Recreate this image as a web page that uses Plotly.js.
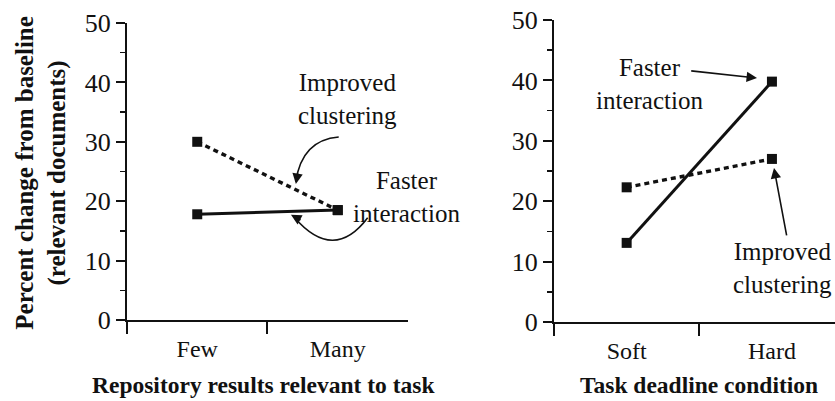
<!DOCTYPE html>
<html>
<head>
<meta charset="utf-8">
<script src="https://cdn.plot.ly/plotly-3.0.1.min.js"></script>
<style>html,body{margin:0;padding:0;background:#fff;}#chart{width:835px;height:401px;}</style>
</head>
<body>
<div id="chart"></div>
<script>
// Left panel: repository results relevant to task
const repoCategories = ['Few', 'Many'];
const repoFaster = [17.8, 18.5];
const repoClustering = [30.0, 18.5];
// Right panel: task deadline condition
const deadlineCategories = ['Soft', 'Hard'];
const deadlineFaster = [13.1, 39.8];
const deadlineClustering = [22.3, 27.0];
const yTickVals = [0, 10, 20, 30, 40, 50];

const FONT = '"Liberation Serif", "DejaVu Serif", serif';
const INK = '#111';

const solidLine = {color: INK, width: 3};
const dashLine = {color: INK, width: 3.4, dash: '5px,4px'};
const marker = {symbol: 'square', size: 10, color: INK};

const traces = [
  {x: repoCategories, y: repoFaster, xaxis: 'x', yaxis: 'y', mode: 'lines+markers', line: solidLine, marker: marker, name: 'Faster interaction'},
  {x: repoCategories, y: repoClustering, xaxis: 'x', yaxis: 'y', mode: 'lines+markers', line: dashLine, marker: marker, name: 'Improved clustering'},
  {x: deadlineCategories, y: deadlineFaster, xaxis: 'x2', yaxis: 'y2', mode: 'lines+markers', line: solidLine, marker: marker, name: 'Faster interaction'},
  {x: deadlineCategories, y: deadlineClustering, xaxis: 'x2', yaxis: 'y2', mode: 'lines+markers', line: dashLine, marker: marker, name: 'Improved clustering'}
];

function xAxis(domain, range, anchor) {
  return {
    domain: domain, range: range, anchor: anchor, type: 'category',
    showline: true, linecolor: INK, linewidth: 2,
    ticks: 'outside', tickson: 'boundaries', ticklen: 12, tickwidth: 2, tickcolor: INK,
    showgrid: false, zeroline: false,
    ticklabelstandoff: 6,
    tickfont: {family: FONT, size: 24, color: INK}
  };
}
function yAxis(domain, anchor) {
  return {
    domain: domain, range: [0, 50], anchor: anchor,
    tickvals: yTickVals,
    showline: true, linecolor: INK, linewidth: 2,
    ticks: 'outside', ticklen: 9, tickwidth: 2, tickcolor: INK,
    minor: {dtick: 5, ticks: 'outside', ticklen: 5, tickwidth: 1.5, tickcolor: INK, showgrid: false},
    showgrid: false, zeroline: false,
    tickfont: {family: FONT, size: 26, color: INK}
  };
}

const txt = {family: FONT, size: 25, color: INK};
const bold = {family: FONT, size: 23.5, color: INK, weight: 'bold'};
const boldY = {family: FONT, size: 25, color: INK, weight: 'bold'};

function head(xref, yref, x, y, ax, ay) {
  return {xref: xref, yref: yref, x: x, y: y, text: '', showarrow: true, ax: ax, ay: ay,
          arrowhead: 2, arrowsize: 1.3, arrowwidth: 1.6, arrowcolor: INK, standoff: 0};
}

const layout = {
  width: 835, height: 401,
  margin: {l: 0, r: 0, t: 0, b: 0},
  paper_bgcolor: '#fff', plot_bgcolor: 'rgba(0,0,0,0)',
  showlegend: false,
  font: {family: FONT, color: INK},
  xaxis: xAxis([0.1521, 0.4886], [-0.5, 1.5], 'y'),
  yaxis: yAxis([0.2020, 0.9426], 'x'),
  xaxis2: xAxis([0.6635, 1.0], [-0.5, 1.434], 'y2'),
  yaxis2: yAxis([0.1970, 0.9501], 'x2'),
  shapes: [
    {type: 'path', xref: 'x', yref: 'y', path: 'M1.007,30.8 Q0.745,30.3 0.702,23.3', line: {color: INK, width: 1.6}},
    {type: 'path', xref: 'x', yref: 'y', path: 'M1.213,17.2 Q0.972,9.6 0.69,17.3', line: {color: INK, width: 1.6}}
  ],
  annotations: [
    {xref: 'x', yref: 'y', x: 1.07, y: 37.2, text: 'Improved<br>clustering', showarrow: false, font: txt, align: 'center'},
    {xref: 'x', yref: 'y', x: 1.49, y: 20.7, text: 'Faster<br>interaction', showarrow: false, font: txt, align: 'center'},
    head('x', 'y', 0.702, 22.9, 2, -12),
    head('x', 'y', 0.667, 17.7, 11, 6),
    {xref: 'x2', yref: 'y2', x: 0.16, y: 39.4, text: 'Faster<br>interaction', showarrow: false, font: txt, align: 'center'},
    {xref: 'x2', yref: 'y2', x: 1.076, y: 8.9, text: 'Improved<br>clustering', showarrow: false, font: txt, align: 'center'},
    {xref: 'x2', yref: 'y2', x: 0.897, y: 40.4, axref: 'x2', ayref: 'y2', ax: 0.434, ay: 41.6, text: '', showarrow: true,
     arrowhead: 2, arrowsize: 1.3, arrowwidth: 1.6, arrowcolor: INK, standoff: 0},
    {xref: 'x2', yref: 'y2', x: 1.014, y: 25.5, axref: 'x2', ayref: 'y2', ax: 1.103, ay: 14.1, text: '', showarrow: true,
     arrowhead: 2, arrowsize: 1.3, arrowwidth: 1.6, arrowcolor: INK, standoff: 0},
    {xref: 'paper', yref: 'paper', x: 0.315, y: 0.04, xanchor: 'center', yanchor: 'middle', text: 'Repository results relevant to task', showarrow: false, font: bold},
    {xref: 'paper', yref: 'paper', x: 0.837, y: 0.04, xanchor: 'center', yanchor: 'middle', text: 'Task deadline condition', showarrow: false, font: bold},
    {xref: 'paper', yref: 'paper', x: 0.05, y: 0.5686, xanchor: 'center', yanchor: 'middle', textangle: -90,
     text: 'Percent change from baseline<br>(relevant documents)', showarrow: false, font: boldY, align: 'center'}
  ]
};

Plotly.newPlot('chart', traces, layout, {staticPlot: true, displayModeBar: false});
</script>
</body>
</html>
